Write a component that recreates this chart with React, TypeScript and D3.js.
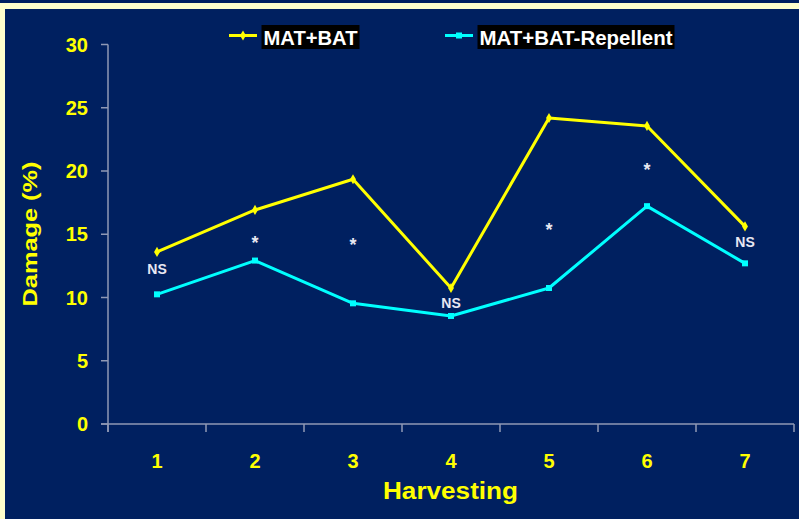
import React from "react";
import * as d3 from "d3";

const categories = ["1", "2", "3", "4", "5", "6", "7"];
const matBat = [13.6, 16.92, 19.35, 10.75, 24.19, 23.56, 15.62];
const matBatRepellent = [10.25, 12.92, 9.54, 8.54, 10.75, 17.22, 12.7];
const sigLabels = ["NS", "*", "*", "NS", "*", "*", "NS"];
const sigValues = [12.25, 14.62, 14.47, 9.57, 15.65, 20.4, 14.39];
const yTicks = [0, 5, 10, 15, 20, 25, 30];
const seriesNames = ["MAT+BAT", "MAT+BAT-Repellent"];

const W = 799;
const H = 519;
const NAVY = "#002060";
const AXIS = "#8f98b5";
const YEL = "#ffff00";
const CYAN = "#00ffff";
const FONT = "'Liberation Sans', Arial, sans-serif";

export default function App() {
  const x = d3.scaleBand<string>().domain(categories).range([108, 794]);
  const y = d3.scaleLinear().domain([0, 30]).range([424, 44.5]);
  const cx = (c: string) => (x(c) as number) + x.bandwidth() / 2;
  const line = d3
    .line<number>()
    .x((_, i) => cx(categories[i]))
    .y((d) => y(d));
  const diamond = d3.symbol().type(d3.symbolDiamond).size(30)();
  const square = d3.symbol().type(d3.symbolSquare).size(36)();
  const bounds = x.domain().map((c) => x(c) as number).concat([794]);

  return (
    <svg
      width={W}
      height={H}
      style={{ position: "absolute", left: 0, top: 0, fontFamily: FONT }}
    >
      <rect x={0} y={0} width={W} height={H} fill="#ffffcc" />
      <rect x={0} y={0} width={W} height={3} fill={NAVY} />
      <rect x={5} y={9} width={W - 5} height={H - 9} fill={NAVY} />

      {/* y axis */}
      <line x1={108} x2={108} y1={y(30)} y2={432} stroke={AXIS} strokeWidth={1.5} />
      {yTicks.map((t) => (
        <g key={t}>
          <line x1={101} x2={108} y1={y(t)} y2={y(t)} stroke={AXIS} strokeWidth={1.5} />
          <text
            x={88}
            y={y(t) + 7}
            textAnchor="end"
            fill={YEL}
            fontSize={20}
            fontWeight="bold"
          >
            {t}
          </text>
        </g>
      ))}
      {/* x axis */}
      <line x1={101} x2={794} y1={424} y2={424} stroke={AXIS} strokeWidth={1.5} />
      {bounds.map((b, i) => (
        <line key={i} x1={b} x2={b} y1={424} y2={432} stroke={AXIS} strokeWidth={1.5} />
      ))}
      {categories.map((c) => (
        <text
          key={c}
          x={cx(c)}
          y={468}
          textAnchor="middle"
          fill={YEL}
          fontSize={20}
          fontWeight="bold"
        >
          {c}
        </text>
      ))}
      <text
        x={450.5}
        y={499}
        textAnchor="middle"
        fill={YEL}
        fontSize={23}
        fontWeight="bold"
        textLength={135}
        lengthAdjust="spacingAndGlyphs"
      >
        Harvesting
      </text>
      <text
        transform="translate(37,234) rotate(-90)"
        textAnchor="middle"
        fill={YEL}
        fontSize={21}
        fontWeight="bold"
        textLength={145}
        lengthAdjust="spacingAndGlyphs"
      >
        Damage (%)
      </text>

      {/* series */}
      <path d={line(matBat) || ""} fill="none" stroke={YEL} strokeWidth={3} strokeLinejoin="round" />
      <path d={line(matBatRepellent) || ""} fill="none" stroke={CYAN} strokeWidth={3} strokeLinejoin="round" />
      {matBat.map((v, i) => (
        <path key={"a" + i} d={diamond} transform={`translate(${cx(categories[i])},${y(v)})`} fill={YEL} />
      ))}
      {matBatRepellent.map((v, i) => (
        <path key={"b" + i} d={square} transform={`translate(${cx(categories[i])},${y(v)})`} fill={CYAN} />
      ))}

      {/* significance */}
      {sigLabels.map((s, i) =>
        s === "*" ? (
          <text
            key={"s" + i}
            x={cx(categories[i])}
            y={y(sigValues[i]) + 10}
            textAnchor="middle"
            fill="#e8e8f2"
            fontSize={18}
            fontWeight="bold"
          >
            *
          </text>
        ) : (
          <text
            key={"s" + i}
            x={cx(categories[i])}
            y={y(sigValues[i]) + 5}
            textAnchor="middle"
            fill="#e8e8f2"
            fontSize={14}
            fontWeight="bold"
          >
            {s}
          </text>
        )
      )}

      {/* legend */}
      <line x1={229} x2={257} y1={35.5} y2={35.5} stroke={YEL} strokeWidth={3} />
      <path d={diamond} transform="translate(243,35.5)" fill={YEL} />
      <rect x={261.5} y={25} width={98} height={24} fill="#000" />
      <text
        x={263.5}
        y={45}
        fill="#ffffff"
        fontSize={21}
        fontWeight="bold"
        textLength={94}
        lengthAdjust="spacingAndGlyphs"
      >
        {seriesNames[0]}
      </text>
      <line x1={445} x2={473} y1={35.5} y2={35.5} stroke={CYAN} strokeWidth={3} />
      <path d={square} transform="translate(459,35.5)" fill={CYAN} />
      <rect x={477.5} y={25} width={197} height={24} fill="#000" />
      <text
        x={479.5}
        y={45}
        fill="#ffffff"
        fontSize={21}
        fontWeight="bold"
        textLength={193}
        lengthAdjust="spacingAndGlyphs"
      >
        {seriesNames[1]}
      </text>
    </svg>
  );
}
